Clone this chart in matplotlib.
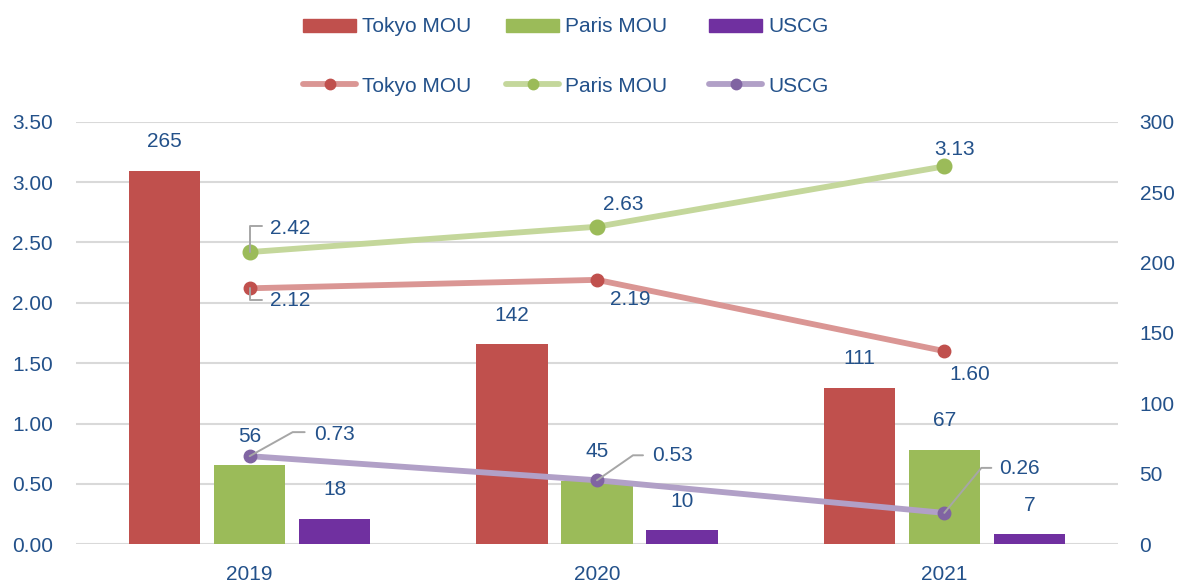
import numpy as np
import matplotlib.pyplot as plt
from matplotlib.patches import Patch
from matplotlib.lines import Line2D

plt.rcParams['font.family'] = ['Liberation Sans', 'DejaVu Sans']

# data
years = ['2019', '2020', '2021']
series = ['Tokyo MOU', 'Paris MOU', 'USCG']
detentions = {            # bars, right axis
    'Tokyo MOU': [265, 142, 111],
    'Paris MOU': [56, 45, 67],
    'USCG': [18, 10, 7],
}
rates = {                 # lines, left axis
    'Tokyo MOU': [2.12, 2.19, 1.60],
    'Paris MOU': [2.42, 2.63, 3.13],
    'USCG': [0.73, 0.53, 0.26],
}

# styles
TXT = '#23518A'
GRID = '#D9D9D9'
LEAD = '#A6A6A6'
bar_col = {'Tokyo MOU': '#C0504D', 'Paris MOU': '#9BBB59', 'USCG': '#7030A0'}
line_col = {'Tokyo MOU': '#DA9694', 'Paris MOU': '#C4D79B', 'USCG': '#B1A0C7'}
mark_col = {'Tokyo MOU': '#C0504D', 'Paris MOU': '#9BBB59', 'USCG': '#8064A2'}
mark_size = {'Tokyo MOU': 9, 'Paris MOU': 10.5, 'USCG': 9}

# label placement in pixels: text offset (left edge, v-center), leader corner, leader end
lab_pos = {
    'Tokyo MOU': [((20, -12), (0, -12), (12, -12)), ((13, -20), None, None), ((5, -23), None, None)],
    'Paris MOU': [((20, 24), (0, 26), (12, 26)), ((6, 22), None, None), ((-10, 17), None, None)],
    'USCG': [((64, 22), (43, 24), (55, 24)), ((55, 25), (36, 25), (46, 25)), ((55, 44), (37, 45), (47, 45))],
}
# legend item left edges (px) for each series
leg_x = [303, 506, 709]

FS = 15
LFS = 15
fig = plt.figure(figsize=(11.79, 5.85), dpi=100)
ax = fig.add_axes([76 / 1179, 0.0696, (1118 - 76) / 1179, 0.792 - 0.0696])
axl = ax.twinx()

x = np.arange(len(years))
bw = 0.205
offs = [-0.245, 0, 0.245]

# gridlines follow the left axis ticks
left_ticks = np.arange(0, 3.51, 0.5)
for t in left_ticks:
    ax.axhline(t * 300 / 3.5, color=GRID, lw=1.5, zorder=0)

for s, o in zip(series, offs):
    vals = detentions[s]
    ax.bar(x + o, vals, width=bw, color=bar_col[s], zorder=2)
    for xi, v in zip(x + o, vals):
        ax.annotate(str(v), (xi, v), xytext=(0, 29), textcoords='offset pixels',
                    ha='center', va='center', color=TXT, fontsize=FS)

ax.set_xlim(-0.5, 2.5)
ax.set_ylim(0, 300)
ax.set_yticks(np.arange(0, 301, 50))
ax.yaxis.tick_right()
ax.set_xticks(x)
ax.set_xticklabels(years)
ax.tick_params(length=0, labelsize=FS, labelcolor=TXT)
ax.tick_params(axis='x', pad=15)
ax.tick_params(axis='y', pad=15.5)

axl.set_ylim(0, 3.5)
axl.set_yticks(left_ticks)
axl.set_yticklabels([f'{t:.2f}' for t in left_ticks])
axl.yaxis.tick_left()
axl.tick_params(length=0, labelsize=FS, labelcolor=TXT, pad=16.5)

for s in series:
    axl.plot(x, rates[s], color=line_col[s], lw=4.2, marker='o', ms=mark_size[s],
             mfc=mark_col[s], mec=mark_col[s], solid_capstyle='round', zorder=3)
    for xi, v, (tpos, corner, end) in zip(x, rates[s], lab_pos[s]):
        if corner is not None:
            ang = np.degrees(np.arctan2(corner[1], corner[0]))
            axl.annotate('', xy=(xi, v), xytext=end, textcoords='offset pixels',
                         arrowprops=dict(arrowstyle='-', color=LEAD, lw=1.4, shrinkA=0, shrinkB=0,
                                         connectionstyle=f'angle,angleA=0,angleB={ang},rad=0'),
                         zorder=4)
        axl.annotate(f'{v:.2f}', (xi, v), xytext=tpos, textcoords='offset pixels',
                     ha='left', va='center', color=TXT, fontsize=FS, zorder=5)

for a in (ax, axl):
    for sp in a.spines.values():
        sp.set_visible(False)

# legends, one item each so the spacing follows the reference
em = LFS * 100 / 72
leg_kw = dict(frameon=False, fontsize=LFS, handlelength=53 / em, handletextpad=6 / em,
              loc='center left', borderpad=0, borderaxespad=0, labelcolor=TXT)
for s, lx in zip(series, leg_x):
    fig.legend([Patch(color=bar_col[s])], [s],
               bbox_to_anchor=(lx / 1179, 1 - 27 / 585), handleheight=0.6, **leg_kw)
    h = Line2D([], [], color=line_col[s], lw=4.2, marker='o', ms=7.5,
               mfc=mark_col[s], mec=mark_col[s], solid_capstyle='round')
    fig.legend([h], [s], bbox_to_anchor=(lx / 1179, 1 - 86 / 585), **leg_kw)

fig.savefig('out.png', dpi=100)
